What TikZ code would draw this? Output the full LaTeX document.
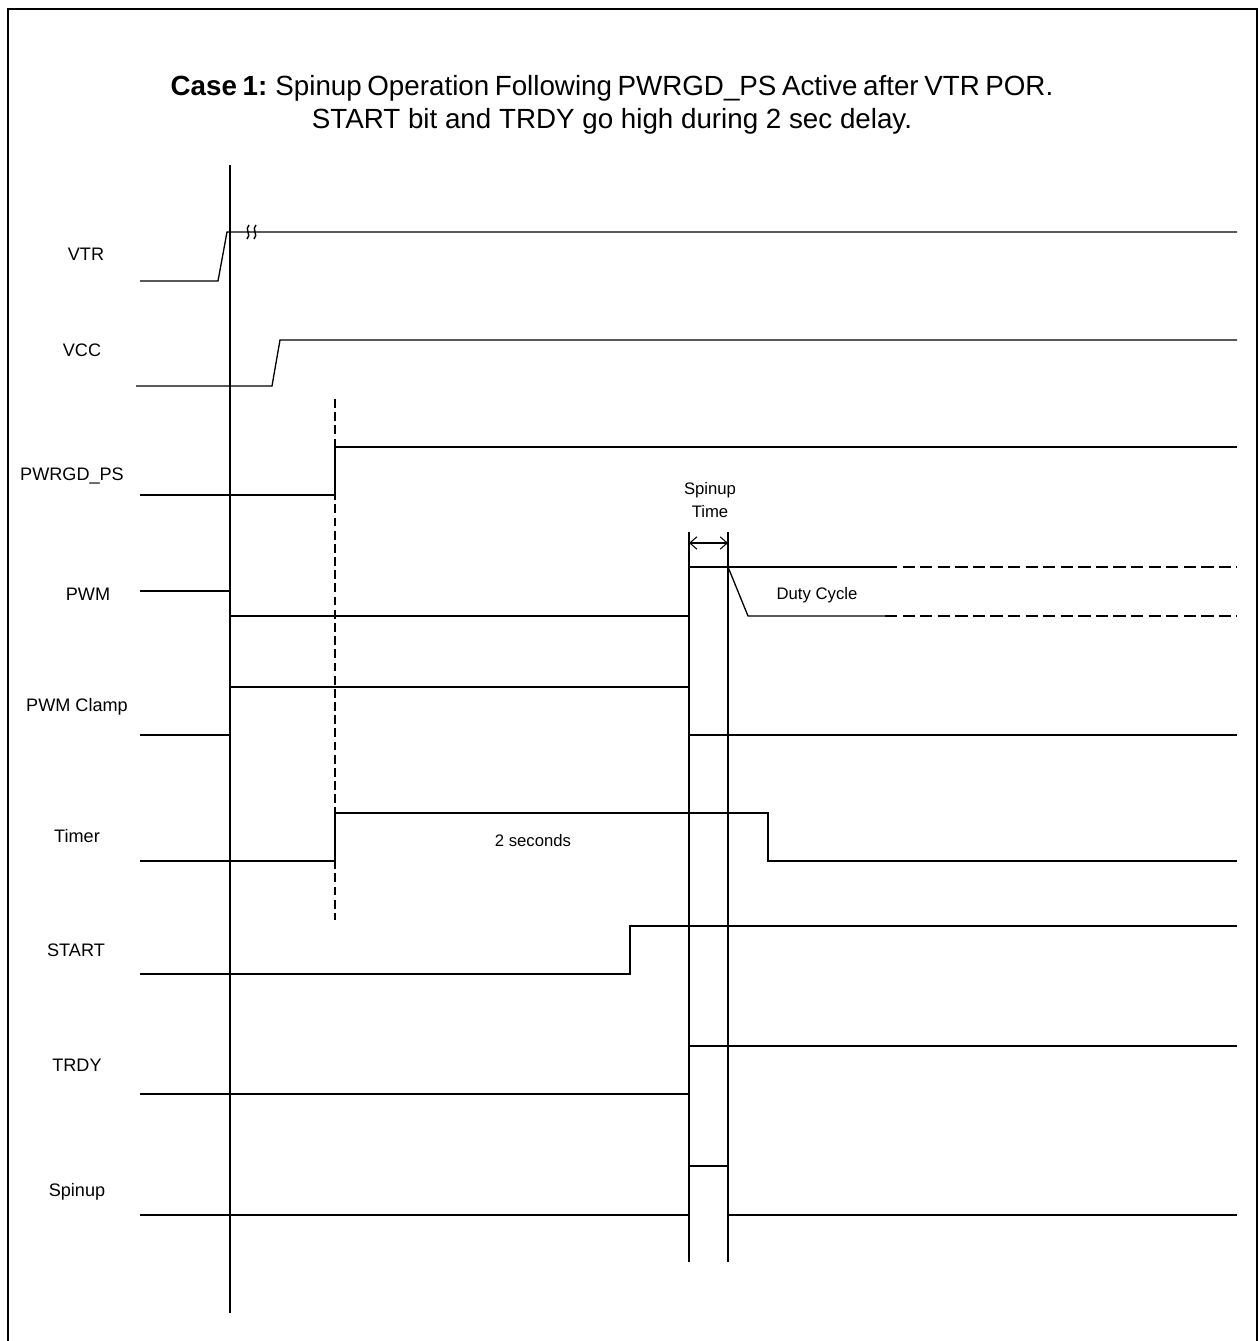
\documentclass[tikz,border=0pt]{standalone}
\usepackage{fontspec}
\setmainfont{Liberation Sans}
\usetikzlibrary{arrows.meta}

\tikzset{
  wave/.style={line width=0.75pt, line join=miter},
  guide/.style={line width=0.6pt},
  siglabel/.style={font=\fontsize{10.3}{12}\selectfont, inner sep=0pt},
  note/.style={font=\fontsize{9.5}{13}\selectfont, inner sep=0pt, align=center}
}

\begin{document}
\begin{tikzpicture}[x=0.02cm, y=-0.02cm]
  \useasboundingbox (0,0) rectangle (1258,1341);
  % frame, open at the bottom
  \draw[line width=1.4pt] (8,1345) -- (8,9) -- (1257,9) -- (1257,1345);

  % title
  \node[font=\fontsize{15.8}{19}\selectfont, align=center, inner sep=0pt] (title) at (612,105)
    {\spaceskip=0.2em\textbf{Case 1:} Spinup Operation Following PWRGD\_PS Active after VTR POR.\\
     START bit and TRDY go high during 2 sec delay.};

  % signal names
  \node[siglabel] (lvtr)   at (86,254)  {VTR};
  \node[siglabel] (lvcc)   at (82,350)  {VCC};
  \node[siglabel] (lpwrgd) at (72,476)  {PWRGD\_PS};
  \node[siglabel] (lpwm)   at (88,594)  {PWM};
  \node[siglabel] (lclamp) at (77,707)  {PWM Clamp};
  \node[siglabel] (ltimer) at (77,836)  {Timer};
  \node[siglabel] (lstart) at (76,950)  {START};
  \node[siglabel] (ltrdy)  at (77,1065) {TRDY};
  \node[siglabel] (lspin)  at (77,1192) {Spinup};

  % time markers
  \coordinate (t0top) at (230,165);
  \coordinate (t0bot) at (230,1313);
  \draw[guide] (t0top) -- (t0bot);
  \coordinate (pgtop) at (335,399);
  \coordinate (pgbot) at (335,920);
  \draw[guide, dash pattern=on 5pt off 2.5pt] (pgtop) -- (pgbot);
  \foreach \x/\n in {689/sa, 728/sb}{
    \coordinate (\n top) at (\x,532);
    \coordinate (\n bot) at (\x,1262);
    \draw[guide] (\n top) -- (\n bot);
  }

  % VTR
  \draw[wave] (140,281) -- (218,281) -- (227,232) -- (1237,232);
  \foreach \x in {248,255}
    \draw[line width=0.8pt] (\x-1,239) .. controls (\x+4,235) and (\x-4,229) .. (\x+1,225);
  % VCC
  \draw[wave] (136,386) -- (272,386) -- (280,340) -- (1237,340);
  % PWRGD_PS
  \draw[wave] (140,495) -- (335,495) -- (335,447) -- (1237,447);
  % PWM
  \draw[wave] (140,591) -- (230,591) -- (230,616) -- (689,616) -- (689,567)
    -- (885,567);
  \draw[wave] (728,567) -- (748,616) -- (885,616);
  \draw[wave, dash pattern=on 7pt off 3pt] (885,567) -- (1237,567);
  \draw[wave, dash pattern=on 7pt off 3pt] (885,616) -- (1237,616);
  \node[note] (duty) at (817,595) {Duty Cycle};
  \coordinate (sta) at (689,543);
  \coordinate (stb) at (728,543);
  \draw[guide, {Straight Barb[length=4pt, width=7pt]}-{Straight Barb[length=4pt, width=7pt]}] (sta) -- (stb);
  \node[note] (sptime) at (710,500) {Spinup\\Time};
  % PWM Clamp
  \draw[wave] (140,735) -- (230,735) -- (230,687) -- (689,687) -- (689,735) -- (1237,735);
  % Timer
  \draw[wave] (140,861) -- (335,861) -- (335,813) -- (768,813) -- (768,861) -- (1237,861);
  \node[note] (twosec) at (533,841) {2 seconds};
  % START
  \draw[wave] (140,974) -- (630,974) -- (630,926) -- (1237,926);
  % TRDY
  \draw[wave] (140,1094) -- (689,1094) -- (689,1046) -- (1237,1046);
  % Spinup
  \draw[wave] (140,1215) -- (689,1215) -- (689,1166) -- (728,1166) -- (728,1215) -- (1237,1215);
\end{tikzpicture}
\end{document}
